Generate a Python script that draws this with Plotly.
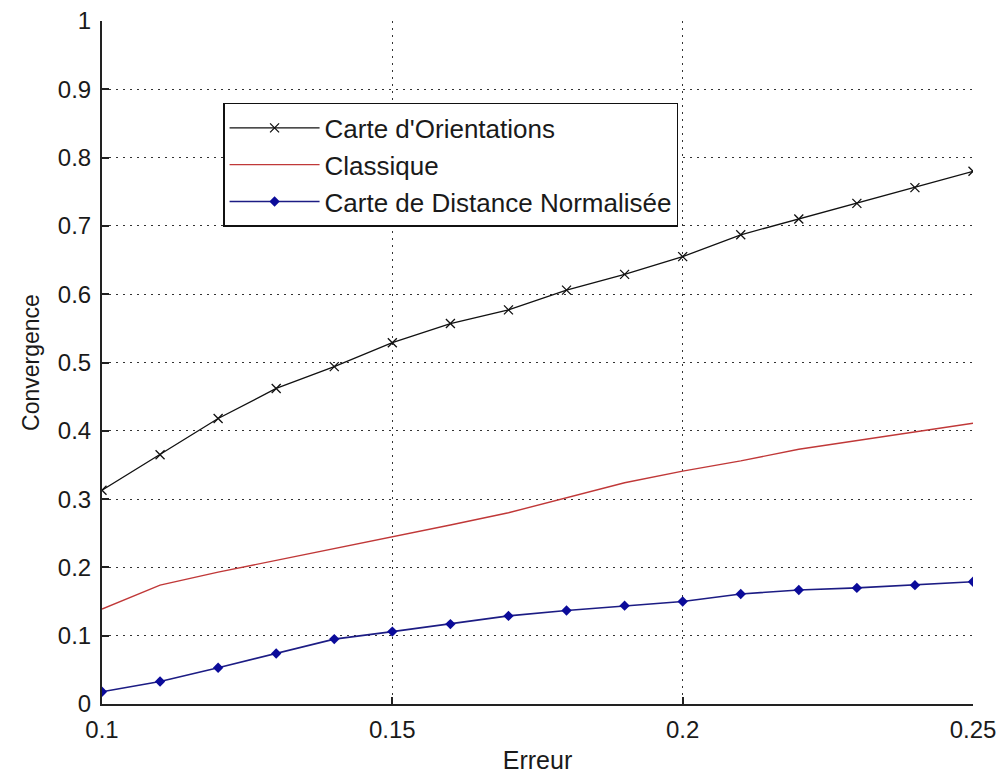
import plotly.graph_objects as go

erreur = [0.10, 0.11, 0.12, 0.13, 0.14, 0.15, 0.16, 0.17, 0.18, 0.19, 0.20, 0.21, 0.22, 0.23, 0.24, 0.25]
orientations = [0.313, 0.365, 0.418, 0.462, 0.494, 0.529, 0.557, 0.577, 0.606, 0.629, 0.655, 0.687, 0.710, 0.733, 0.756, 0.780]
classique = [0.139, 0.174, 0.193, 0.210, 0.227, 0.245, 0.262, 0.280, 0.302, 0.324, 0.341, 0.356, 0.373, 0.386, 0.399, 0.411]
distance_norm = [0.018, 0.033, 0.053, 0.074, 0.095, 0.106, 0.117, 0.129, 0.137, 0.144, 0.150, 0.161, 0.167, 0.170, 0.174, 0.179]

names = ["Carte d'Orientations", "Classique", "Carte de Distance Normalisée"]
xticks = [0.1, 0.15, 0.2, 0.25]
xticklabels = ["0.1", "0.15", "0.2", "0.25"]
yticks = [0, 0.1, 0.2, 0.3, 0.4, 0.5, 0.6, 0.7, 0.8, 0.9, 1]
yticklabels = ["0", "0.1", "0.2", "0.3", "0.4", "0.5", "0.6", "0.7", "0.8", "0.9", "1"]

FONT = "Liberation Sans, Arial, Helvetica"
tickfont = dict(family=FONT, size=24, color="#1a1a1a")

fig = go.Figure()
fig.add_trace(go.Scatter(x=erreur, y=orientations, name=names[0], legendgroup="a",
                         mode="lines+markers", line=dict(color="#111111", width=1.3),
                         marker=dict(symbol="x-thin", size=9, line=dict(color="#111111", width=1.3))))
fig.add_trace(go.Scatter(x=erreur, y=classique, name=names[1], legendgroup="b",
                         mode="lines", line=dict(color="#c03838", width=1.4)))
fig.add_trace(go.Scatter(x=erreur, y=distance_norm, name=names[2], legendgroup="c",
                         mode="lines+markers", line=dict(color="#1c1c84", width=1.6),
                         marker=dict(symbol="diamond", size=8, color="#0b0b9a")))

fig.update_layout(
    width=999, height=775,
    margin=dict(l=102, r=26, t=21, b=71),
    paper_bgcolor="white", plot_bgcolor="white",
    font=dict(family=FONT, size=20, color="#1a1a1a"),
    showlegend=True,
    legend=dict(x=0.139, y=0.88, xanchor="left", yanchor="top",
                bgcolor="white", bordercolor="#111111", borderwidth=1.5,
                font=dict(family=FONT, size=26, color="#1a1a1a"),
                itemwidth=90, tracegroupgap=7, traceorder="normal"),
)
fig.update_xaxes(range=[0.1, 0.25], tickvals=xticks, ticktext=xticklabels,
                 showgrid=True, gridcolor="#333333", griddash="2px,5px", gridwidth=1.2,
                 showline=True, linecolor="#222222", linewidth=2, mirror=False,
                 ticks="inside", ticklen=7, tickcolor="#222222", tickwidth=1.5, tickfont=tickfont,
                 ticklabelstandoff=3,
                 zeroline=False, automargin=False,
                 title=dict(text="Erreur", font=dict(family=FONT, size=25), standoff=10))
fig.update_yaxes(range=[0, 1], tickvals=yticks, ticktext=yticklabels,
                 showgrid=True, gridcolor="#333333", griddash="2px,5px", gridwidth=1.2,
                 showline=True, linecolor="#222222", linewidth=2, mirror=False,
                 ticks="inside", ticklen=7, tickcolor="#222222", tickwidth=1.5, tickfont=tickfont,
                 ticklabelstandoff=4,
                 zeroline=False, automargin=False,
                 title=dict(text="Convergence", font=dict(family=FONT, size=23), standoff=12))

fig.write_html("out.html")
